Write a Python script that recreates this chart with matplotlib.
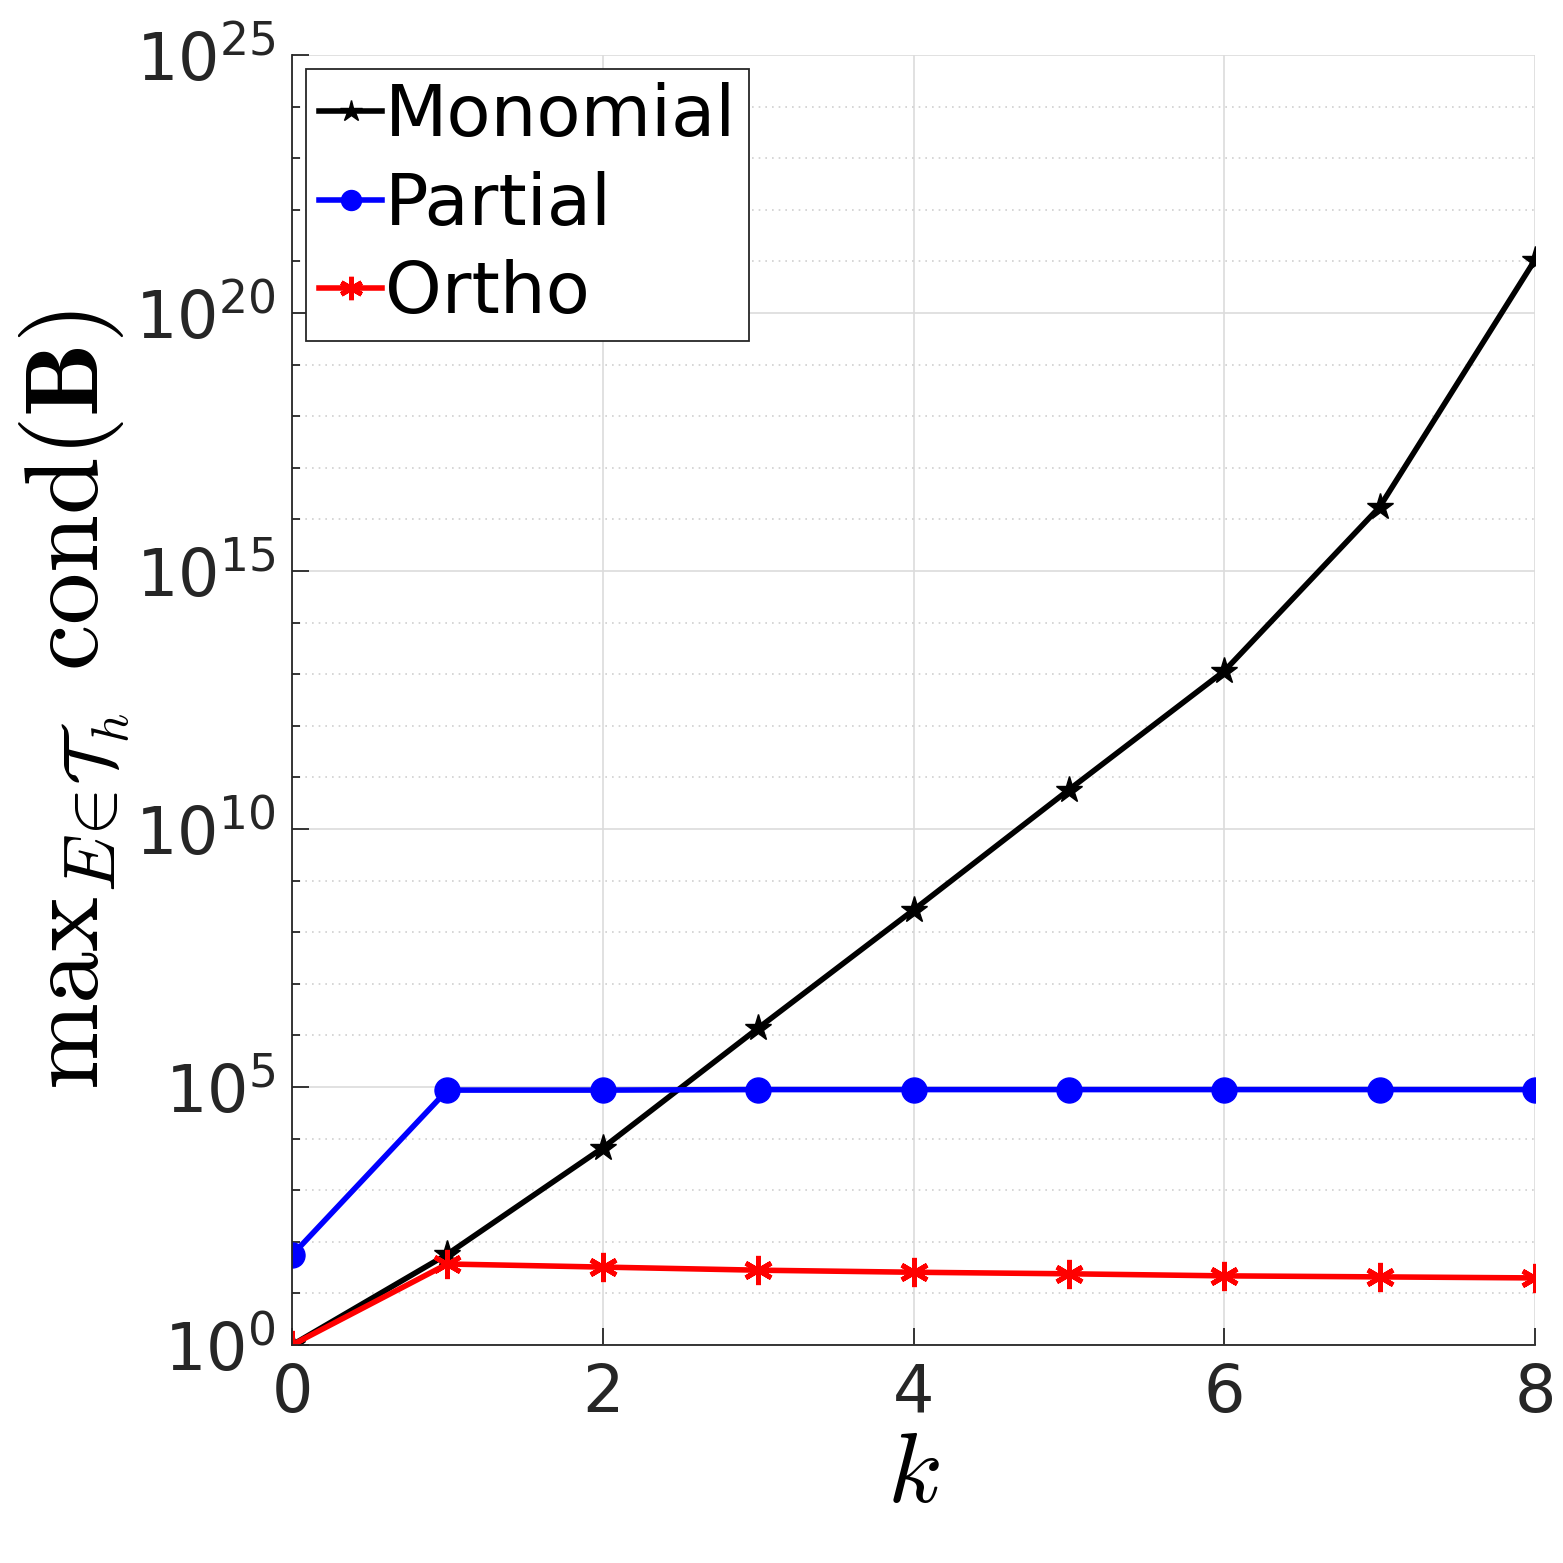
import matplotlib

matplotlib.use("Agg")
import matplotlib.pyplot as plt
from matplotlib.ticker import FixedLocator, FuncFormatter, NullFormatter
import numpy as np


K_VALUES = [0, 1, 2, 3, 4, 5, 6, 7, 8]
MONOMIAL_LOG10 = [0.0, 1.76, 3.82, 6.14, 8.43, 10.76, 13.06, 16.24, 21.03]
PARTIAL_LOG10 = [1.74, 4.94, 4.94, 4.95, 4.95, 4.95, 4.95, 4.95, 4.95]
ORTHO_LOG10 = [0.0, 1.57, 1.51, 1.45, 1.41, 1.38, 1.34, 1.32, 1.30]
SERIES_LABELS = ["Monomial", "Partial", "Ortho"]
X_TICKS = [0, 2, 4, 6, 8]
Y_MAJOR_EXP = [0, 5, 10, 15, 20, 25]

TICK_COLOR = "#262626"
ASTERISK = (6, 2, 0)


def plot_condition_numbers() -> None:
    """Draw max condition number of the basis matrix against k."""
    plt.rcParams["mathtext.fontset"] = "cm"
    plt.rcParams["font.family"] = ["DejaVu Sans"]

    fig = plt.figure(figsize=(15.63, 15.63), dpi=100)
    ax = fig.add_axes([292 / 1563, 1 - 1345 / 1563, (1535 - 292) / 1563, (1345 - 55) / 1563])

    k = np.array(K_VALUES)
    ax.plot(k, 10.0 ** np.array(MONOMIAL_LOG10), color="black", linewidth=4,
            marker="*", markersize=20, label=SERIES_LABELS[0])
    ax.plot(k, 10.0 ** np.array(PARTIAL_LOG10), color="blue", linewidth=4,
            marker="o", markersize=18, label=SERIES_LABELS[1])
    ax.plot(k, 10.0 ** np.array(ORTHO_LOG10), color="red", linewidth=4,
            marker=ASTERISK, markersize=21, markeredgewidth=3.5, label=SERIES_LABELS[2])

    ax.set_yscale("log")
    ax.set_xlim(0, 8)
    ax.set_ylim(1, 1e25)
    ax.set_xticks(X_TICKS)
    ax.yaxis.set_major_locator(FixedLocator([10.0 ** e for e in Y_MAJOR_EXP]))
    ax.yaxis.set_minor_locator(FixedLocator([10.0 ** e for e in range(26) if e % 5]))
    ax.yaxis.set_minor_formatter(NullFormatter())
    ax.yaxis.set_major_formatter(FuncFormatter(lambda v, _: rf"$\mathregular{{10^{{{int(round(np.log10(v)))}}}}}$"))

    ax.grid(True, which="major", color="#dcdcdc", linewidth=1.2)
    ax.grid(True, which="minor", axis="y", color="#d0d0d0", linestyle=(0, (1, 3)), linewidth=1.2)
    ax.set_axisbelow(True)

    ax.tick_params(axis="both", which="major", labelsize=47, colors=TICK_COLOR,
                   direction="in", length=12, width=1.3, pad=12)
    ax.tick_params(axis="y", which="minor", direction="in", length=6, width=1.3, colors=TICK_COLOR)
    for spine in ax.spines.values():
        spine.set_color(TICK_COLOR)
        spine.set_linewidth(1.3)
    ax.spines["top"].set_visible(False)
    ax.spines["right"].set_visible(False)

    ax.set_xlabel(r"$k$", fontsize=72, labelpad=0)
    ax.set_ylabel(r"$\mathrm{max}_{E\!\in\!\mathcal{T}_h}\ \mathrm{cond}(\mathbf{B})$", fontsize=75, labelpad=2)

    legend = ax.legend(loc="upper left", fontsize=52, frameon=True, fancybox=False,
                       borderpad=0.18, handlelength=0.86, handletextpad=0.05,
                       labelspacing=0.27, borderaxespad=0.2, markerscale=0.8)
    legend.get_frame().set_edgecolor(TICK_COLOR)
    legend.get_frame().set_linewidth(1.3)
    legend.get_frame().set_alpha(1.0)

    fig.savefig("out.png", dpi=100)
    plt.close(fig)


def main() -> None:
    plot_condition_numbers()


if __name__ == "__main__":
    main()
